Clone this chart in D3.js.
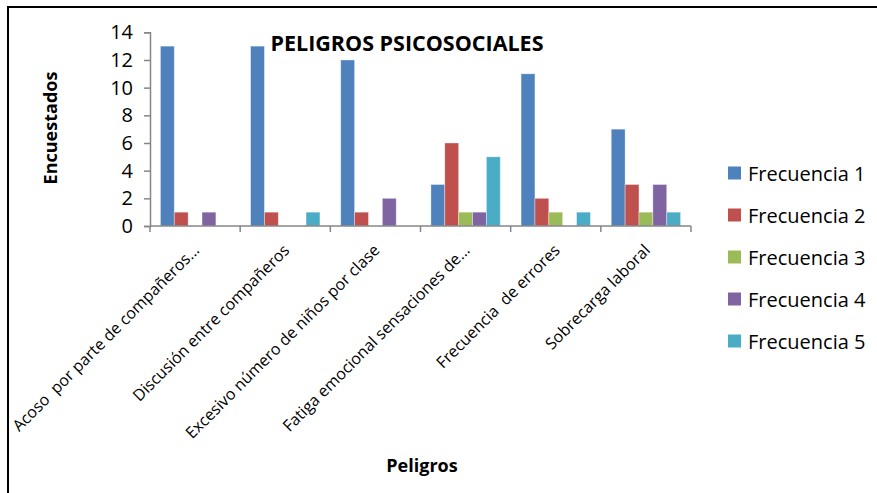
<!DOCTYPE html>
<html>
<head>
<meta charset="utf-8">
<script src="https://cdn.jsdelivr.net/npm/d3@7"></script>
<style>
  html, body { margin: 0; padding: 0; background: #fff; }
  svg { display: block; }
  text { font-family: "Open Sans", "Liberation Sans", sans-serif; fill: #000; }
</style>
</head>
<body>
<svg id="chart" width="877" height="493"></svg>
<script>
const categories = [
  "Acoso  por parte de compañeros...",
  "Discusión entre compañeros",
  "Excesivo número de niños por clase",
  "Fatiga emocional sensaciones de...",
  "Frecuencia  de errores",
  "Sobrecarga laboral"
];
const seriesNames = ["Frecuencia 1", "Frecuencia 2", "Frecuencia 3", "Frecuencia 4", "Frecuencia 5"];
const frecuencia1 = [13, 13, 12, 3, 11, 7];
const frecuencia2 = [1, 1, 1, 6, 2, 3];
const frecuencia3 = [0, 0, 0, 1, 1, 1];
const frecuencia4 = [1, 0, 2, 1, 0, 3];
const frecuencia5 = [0, 1, 0, 5, 1, 1];
const yTicks = [0, 2, 4, 6, 8, 10, 12, 14];
const colors = ["#4F81BD", "#C0504D", "#9BBB59", "#8064A2", "#4BACC6"];

const seriesValues = [frecuencia1, frecuencia2, frecuencia3, frecuencia4, frecuencia5];

const svg = d3.select("#chart");

// outer border
svg.append("rect").attr("x", 8).attr("y", 7).attr("width", 880).attr("height", 500)
  .attr("fill", "none").attr("stroke", "#000").attr("stroke-width", 2);

const x0 = d3.scaleBand().domain(categories).range([150, 691]).padding(0);
const x1 = d3.scaleBand().domain(seriesNames).range([0, x0.bandwidth()]).paddingInner(0).paddingOuter(0.75);
const y = d3.scaleLinear().domain([0, 14]).range([226, 32.3]);

// bars
const groups = svg.append("g").selectAll("g").data(categories).join("g")
  .attr("transform", d => `translate(${x0(d)},0)`);
groups.selectAll("rect")
  .data((d, i) => seriesNames.map((s, j) => ({ s, j, v: seriesValues[j][i] })))
  .join("rect")
  .attr("x", d => x1(d.s))
  .attr("y", d => y(d.v))
  .attr("width", x1.bandwidth())
  .attr("height", d => y(0) - y(d.v))
  .attr("fill", d => colors[d.j])
  .attr("stroke", "rgba(255,255,255,0.45)")
  .attr("stroke-width", 0.8);

// y axis
const yAxis = d3.axisLeft(y).tickValues(yTicks).tickSize(6).tickPadding(11).tickFormat(d3.format("d"));
const gy = svg.append("g").attr("transform", "translate(150,0)").call(yAxis);
gy.select(".domain").attr("stroke", "#868686").attr("stroke-width", 1.5);
gy.selectAll(".tick line").attr("stroke", "#868686").attr("stroke-width", 1.5);
gy.selectAll(".tick text").style("font-size", "20px").style("font-family", "'Open Sans', sans-serif").attr("fill", "#000");

// x axis
const gx = svg.append("g").attr("transform", `translate(0,${y(0)})`);
gx.append("line").attr("x1", 150).attr("x2", 691).attr("stroke", "#868686").attr("stroke-width", 1.5);
const boundaries = categories.map(c => x0(c)).concat([x0(categories[categories.length - 1]) + x0.bandwidth()]);
gx.selectAll("line.tk").data(boundaries).join("line").attr("class", "tk")
  .attr("x1", d => d).attr("x2", d => d).attr("y1", 0).attr("y2", 6)
  .attr("stroke", "#868686").attr("stroke-width", 1.5);

// x labels rotated
svg.append("g").selectAll("text").data(categories).join("text")
  .attr("transform", d => `translate(${x0(d) + x0.bandwidth() / 2 + 1},247) rotate(-45)`)
  .attr("text-anchor", "end")
  .attr("dominant-baseline", "central")
  .style("font-size", "16px")
  .style("white-space", "pre")
  .text(d => d);

// title
svg.append("text").attr("x", 407).attr("y", 51).attr("text-anchor", "middle")
  .style("font-size", "21.5px").style("font-weight", "bold").text("PELIGROS PSICOSOCIALES");

// axis titles
svg.append("text").attr("transform", "translate(57,128) rotate(-90)").attr("text-anchor", "middle")
  .style("font-size", "18px").style("font-weight", "bold").text("Encuestados");
svg.append("text").attr("x", 422).attr("y", 472).attr("text-anchor", "middle")
  .style("font-size", "18px").style("font-weight", "bold").text("Peligros");

// legend
const leg = svg.append("g").selectAll("g").data(seriesNames).join("g")
  .attr("transform", (d, i) => `translate(728,${173 + i * 42})`);
leg.append("rect").attr("x", 0).attr("y", -6.5).attr("width", 13).attr("height", 13)
  .attr("fill", (d, i) => colors[i]);
leg.append("text").attr("x", 20).attr("y", 0).attr("dominant-baseline", "central")
  .style("font-size", "20px").text(d => d);
</script>
</body>
</html>
